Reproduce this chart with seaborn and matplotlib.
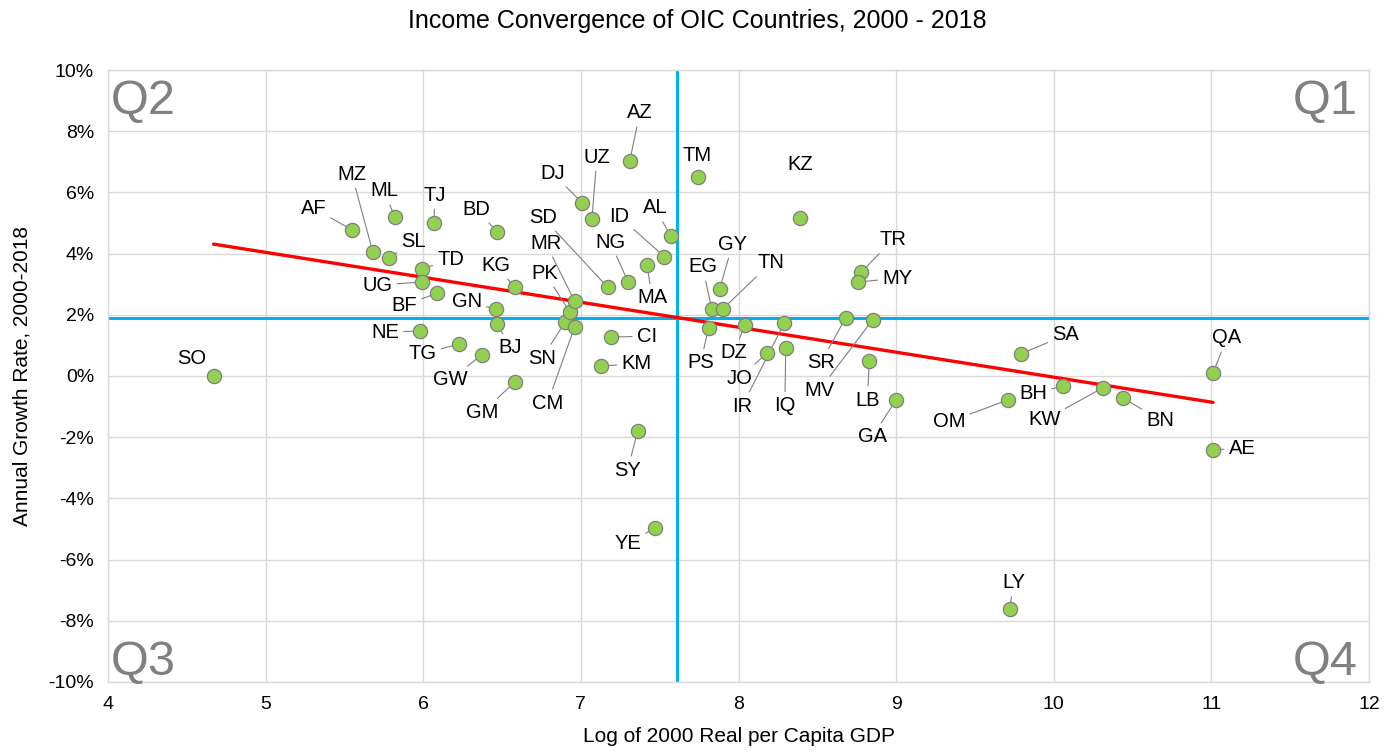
import pandas as pd
import matplotlib.pyplot as plt
from matplotlib.ticker import FuncFormatter
import seaborn as sns

# Country codes, log of 2000 real per capita GDP, annual growth rate (%) 2000-2018
countries = ["SO", "AF", "MZ", "ML", "SL", "TJ", "TD", "UG", "BF", "BD",
             "KG", "GN", "BJ", "NE", "TG", "GW", "GM", "SN", "CM", "PK",
             "MR", "SD", "DJ", "UZ", "AZ", "ID", "AL", "NG", "MA", "CI",
             "KM", "SY", "YE", "TM", "EG", "GY", "TN", "PS", "DZ", "JO",
             "IR", "IQ", "KZ", "TR", "MY", "SR", "MV", "LB", "GA", "OM",
             "SA", "BH", "KW", "BN", "QA", "AE", "LY"]
log_gdp = [4.67, 5.55, 5.68, 5.82, 5.78, 6.07, 5.99, 5.99, 6.09, 6.47,
           6.58, 6.46, 6.47, 5.98, 6.23, 6.37, 6.58, 6.90, 6.96, 6.93,
           6.96, 7.17, 7.01, 7.07, 7.31, 7.53, 7.57, 7.30, 7.42, 7.19,
           7.13, 7.36, 7.47, 7.74, 7.83, 7.88, 7.90, 7.81, 8.04, 8.18,
           8.29, 8.30, 8.39, 8.78, 8.76, 8.68, 8.85, 8.83, 9.00, 9.71,
           9.79, 10.06, 10.31, 10.44, 11.01, 11.01, 9.72]
growth = [0.00, 4.77, 4.05, 5.20, 3.86, 5.00, 3.50, 3.07, 2.71, 4.70,
          2.90, 2.19, 1.70, 1.47, 1.05, 0.69, -0.20, 1.76, 1.60, 2.09,
          2.45, 2.90, 5.65, 5.13, 7.03, 3.90, 4.58, 3.07, 3.63, 1.27,
          0.33, -1.80, -4.97, 6.50, 2.19, 2.84, 2.19, 1.57, 1.67, 0.75,
          1.73, 0.92, 5.16, 3.40, 3.07, 1.90, 1.83, 0.49, -0.78, -0.78,
          0.72, -0.33, -0.39, -0.72, 0.10, -2.42, -7.60]

# averages that split the chart into quadrants
mean_log_gdp = 7.61
mean_growth = 1.90

df = pd.DataFrame({"Country": countries, "LogGDP": log_gdp, "Growth": growth})

# label offsets from each point in pixels (dx, dy, draw leader line?)
label_offsets = {
    "SO": (-22, 18, False), "AF": (-39, 22, True), "MZ": (-21, 78, True),
    "ML": (-11, 26, True), "SL": (25, 16, True), "TJ": (0, 28, True),
    "TD": (29, 9, True), "UG": (-44, -3, True), "BF": (-33, -12, True),
    "BD": (-21, 23, True), "KG": (-19, 22, True), "GN": (-29, 7, True),
    "BJ": (13, -24, True), "NE": (-35, -1, True), "TG": (-37, -10, True),
    "GW": (-31, -25, True), "GM": (-32, -30, True), "SN": (-23, -36, True),
    "CM": (-27, -76, True), "PK": (-25, 39, True), "MR": (-29, 58, True),
    "SD": (-65, 70, True), "DJ": (-30, 30, True), "UZ": (5, 62, True),
    "AZ": (10, 48, True), "ID": (-45, 40, True), "AL": (-16, 28, True),
    "NG": (-18, 40, True), "MA": (5, -33, True), "CI": (36, 1, True),
    "KM": (35, 2, True), "SY": (-10, -39, True), "YE": (-27, -15, True),
    "TM": (0, 22, False), "EG": (-9, 42, True), "GY": (13, 45, True),
    "TN": (48, 46, True), "PS": (-8, -35, True), "DZ": (-11, -28, True),
    "JO": (-27, -25, True), "IR": (-42, -83, True), "IQ": (-1, -58, True),
    "KZ": (0, 54, False), "TR": (31, 32, True), "MY": (39, 4, True),
    "SR": (-25, -45, True), "MV": (-53, -70, True), "LB": (-2, -39, True),
    "GA": (-24, -37, True), "OM": (-59, -22, True), "SA": (45, 19, True),
    "BH": (-30, -7, True), "KW": (-58, -32, True), "BN": (37, -22, True),
    "QA": (14, 35, True), "AE": (29, 2, True), "LY": (4, 26, True),
}

sns.set_style("white")
plt.rcParams["font.family"] = ["Liberation Sans", "DejaVu Sans"]
plt.rcParams["text.color"] = "black"
plt.rcParams["axes.labelcolor"] = "black"
plt.rcParams["xtick.color"] = "black"
plt.rcParams["ytick.color"] = "black"

fig = plt.figure(figsize=(13.95, 7.52), dpi=100)
ax = fig.add_axes([0.0774, 0.0931, 0.9040, 0.8138])

# quadrant lines and trend line
ax.axvline(mean_log_gdp, color="#00b0f0", lw=2.2, zorder=2)
ax.axhline(mean_growth, color="#00b0f0", lw=2.2, zorder=2)
sns.regplot(data=df, x="LogGDP", y="Growth", scatter=False, ci=None,
            truncate=True, ax=ax,
            line_kws={"color": "#ff0000", "lw": 2.4, "zorder": 3})

sns.scatterplot(data=df, x="LogGDP", y="Growth", ax=ax, s=105,
                color="#92d050", edgecolor="#7f7f7f", linewidth=0.9,
                zorder=5)

for c, x, y in zip(countries, log_gdp, growth):
    dx, dy, leader = label_offsets[c]
    arrow = None
    if leader:
        arrow = dict(arrowstyle="-", color="#7f7f7f", lw=0.8,
                     shrinkA=1, shrinkB=0)
    ax.annotate(c, (x, y), xytext=(dx, dy), textcoords="offset pixels",
                ha="center", va="center", fontsize=14.5, color="black",
                arrowprops=arrow, zorder=4)

# quadrant names
qstyle = dict(transform=ax.transAxes, fontsize=35, color="#808080")
ax.text(0.002, 0.985, "Q2", ha="left", va="top", **qstyle)
ax.text(0.991, 0.985, "Q1", ha="right", va="top", **qstyle)
ax.text(0.002, 0.012, "Q3", ha="left", va="baseline", **qstyle)
ax.text(0.991, 0.012, "Q4", ha="right", va="baseline", **qstyle)

ax.set_xlim(4, 12)
ax.set_ylim(-10, 10)
ax.set_xticks(range(4, 13))
ax.set_yticks(range(-10, 11, 2))
ax.yaxis.set_major_formatter(FuncFormatter(lambda v, p: f"{v:.0f}%"))
ax.tick_params(length=0, labelsize=14, pad=10)
ax.grid(True, color="#d9d9d9", lw=1)
ax.set_axisbelow(True)
for s in ax.spines.values():
    s.set_color("#d9d9d9")
    s.set_linewidth(1)

ax.set_xlabel("Log of 2000 Real per Capita GDP", fontsize=15, labelpad=10)
ax.set_ylabel("Annual Growth Rate, 2000-2018", fontsize=15, labelpad=12)
fig.suptitle("Income Convergence of OIC Countries, 2000 - 2018",
             fontsize=18, y=0.988, color="black")

plt.savefig("out.png", dpi=100)
